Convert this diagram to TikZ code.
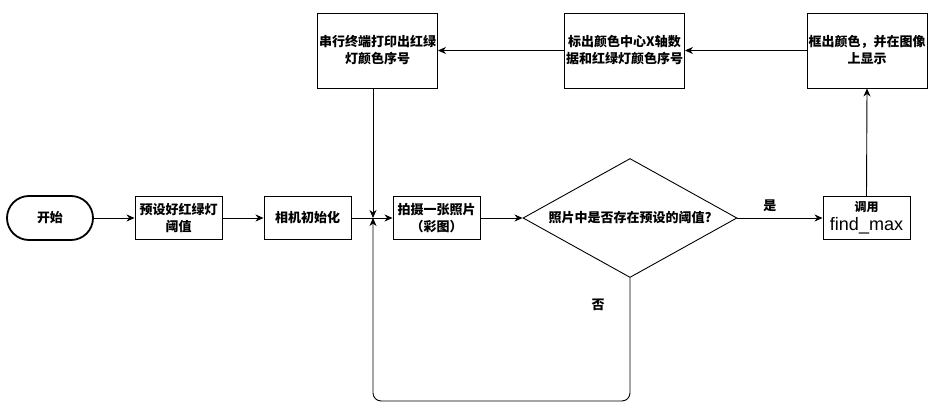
\documentclass[tikz,border=0pt]{standalone}
\usepackage{fontspec}
\setmainfont{Noto Sans CJK SC}
\newfontfamily\latinfont{Liberation Sans}
\usepackage{tikz}
\usetikzlibrary{positioning,shapes.geometric,arrows.meta}

\tikzset{
  stepbox/.style={rectangle,draw,line width=0.9pt,align=center,inner sep=0pt,font=\bfseries\fontsize{13}{17}\selectfont},
  smallbox/.style={stepbox,minimum width=87pt,minimum height=43pt},
  bigbox/.style={stepbox,minimum width=120pt,minimum height=75pt},
  flow/.style={-{Stealth[length=8pt,width=7pt,inset=2.5pt]},line width=0.9pt},
}

\begin{document}
\begin{tikzpicture}[x=1pt,y=-1pt]
\useasboundingbox (0,0) rectangle (938,417);

\node[stepbox,rounded corners=22pt,minimum width=86pt,minimum height=44pt,line width=1.8pt] (start) at (50,218) {开始};
\node[smallbox] (preset) at (178.5,218) {预设好红绿灯\\阈值};
\node[smallbox] (camera) at (307.5,218) {相机初始化};
\node[smallbox] (shoot) at (436.5,218) {拍摄一张照片\\（彩图）};
\node[diamond,draw,line width=0.9pt,aspect=1.8,minimum width=214pt,minimum height=119pt,inner sep=0pt,font=\bfseries\fontsize{13}{17}\selectfont] (judge) at (630,218) {照片中是否存在预设的阈值?};
\node[smallbox] (findmax) at (866.5,218) {{\fontsize{12}{14}\selectfont 调用}\\[2pt]{\latinfont\mdseries\fontsize{18}{20}\selectfont find\_max}};

\node[bigbox] (mark) at (867,50.5) {框出颜色，并在图像\\上显示};
\node[bigbox] (label) at (624.5,50.5) {标出颜色中心X轴数\\据和红绿灯颜色序号};
\node[bigbox] (serial) at (377.5,50.5) {串行终端打印出红绿\\灯颜色序号};

\coordinate (join) at (373,218);

\foreach \a/\b in {start/preset, preset/camera, camera/shoot, shoot/judge} {
    \draw[flow] (\a.east) -- (\b.west);
}

\draw[flow] (judge.east) -- node[pos=0.38,above=2pt,font=\bfseries\fontsize{13}{17}\selectfont] (yes) {是} (findmax.west);
\draw[flow] (findmax.north) -- (mark.south);
\draw[flow] (mark.west) -- (label.east);
\draw[flow] (label.west) -- (serial.east);
\draw[flow] (serial.south -| join) -- (join);
\draw[flow,rounded corners=8pt] (judge.south) -- ++(0,123) -| (join);

\node[font=\bfseries\fontsize{13}{17}\selectfont] (no) at (598,305) {否};
\end{tikzpicture}
\end{document}
